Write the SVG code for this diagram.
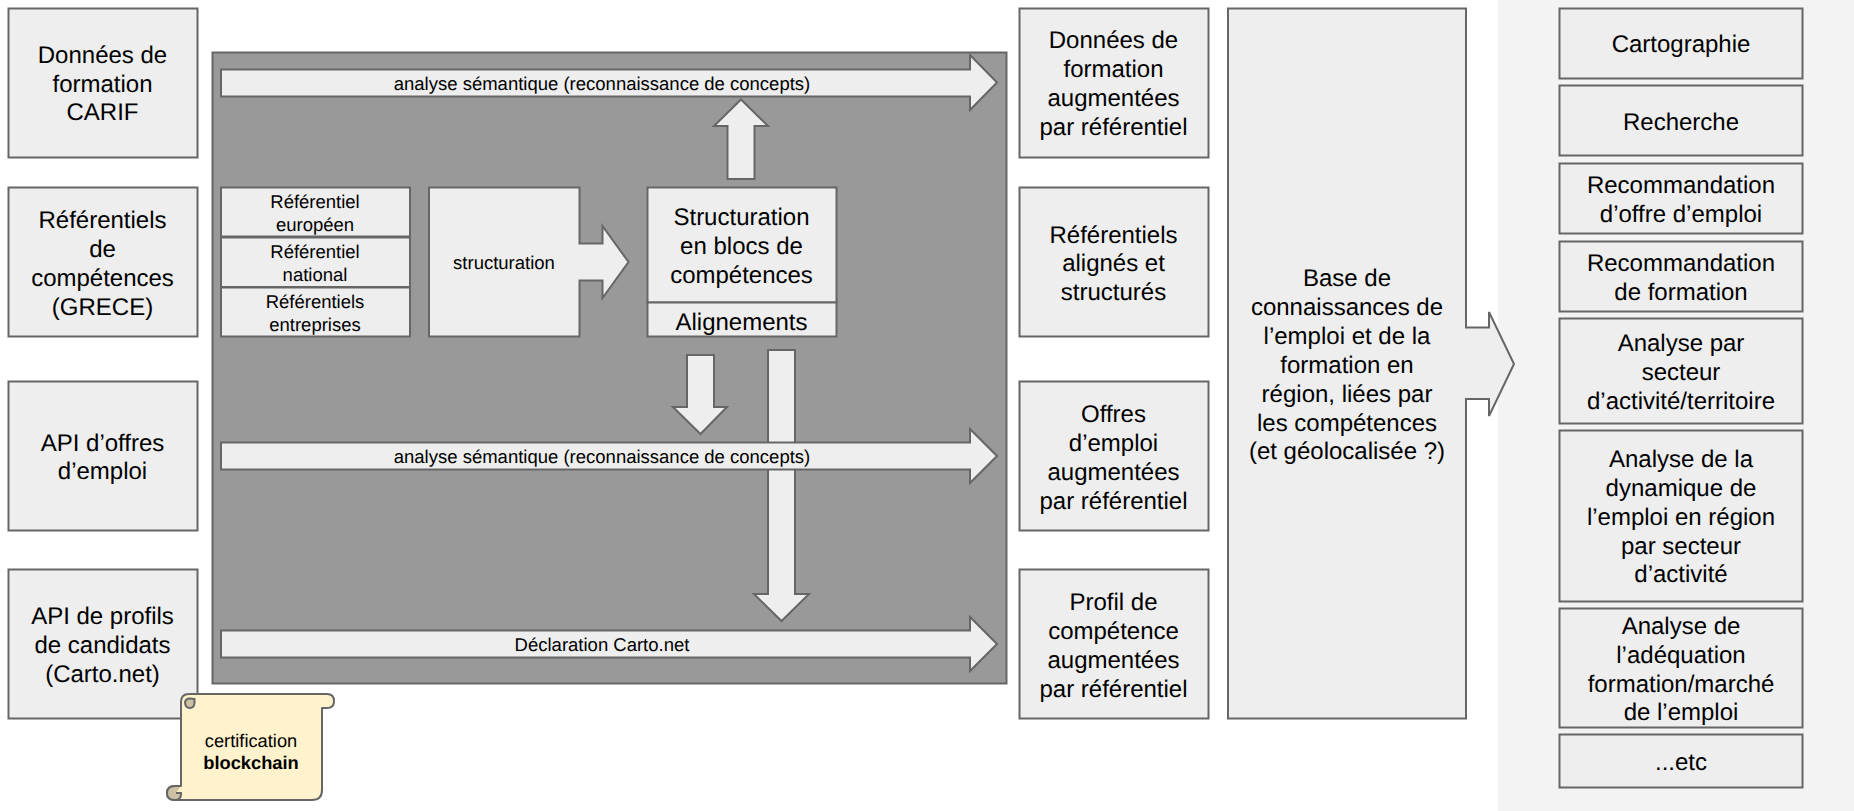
<svg xmlns="http://www.w3.org/2000/svg" width="1854" height="811" viewBox="0 0 1854 811">
<style>
text{font-family:"Liberation Sans",Arial,sans-serif;fill:#000;text-anchor:middle;text-rendering:geometricPrecision}
.b{fill:#eeeeee;stroke:#666666;stroke-width:2}
.t{font-size:24px}
.s{font-size:18.5px}
.c{font-size:18.3px}
.d{fill:#ccc2a3;stroke:#666666;stroke-width:2}
</style>
<rect width="1854" height="811" fill="#fff"/>
<rect id="panel-right" x="1498" y="0" width="356" height="811" fill="#f3f3f3"/>
<g id="n-carif"><rect class="b" x="8.500" y="8.500" width="189" height="149"/><text class="t" x="102.500" y="63">Données de</text><text class="t" x="102.500" y="92">formation</text><text class="t" x="102.500" y="120">CARIF</text></g>
<g id="n-grece"><rect class="b" x="8.500" y="187.500" width="189" height="149"/><text class="t" x="102.500" y="228">Référentiels</text><text class="t" x="102.500" y="257">de</text><text class="t" x="102.500" y="286">compétences</text><text class="t" x="102.500" y="315">(GRECE)</text></g>
<g id="n-offres"><rect class="b" x="8.500" y="381.500" width="189" height="149"/><text class="t" x="102.500" y="451">API d’offres</text><text class="t" x="102.500" y="479">d’emploi</text></g>
<g id="n-profils"><rect class="b" x="8.500" y="569.500" width="189" height="149"/><text class="t" x="102.500" y="624">API de profils</text><text class="t" x="102.500" y="653">de candidats</text><text class="t" x="102.500" y="682">(Carto.net)</text></g>
<g id="n-panel"><rect x="212.500" y="52.500" width="794" height="631" fill="#999999" stroke="#666666" stroke-width="2"/></g>
<g id="n-ref1"><rect class="b" x="221" y="187.500" width="189" height="49"/><text class="s" x="315" y="208">Référentiel</text><text class="s" x="315" y="231">européen</text></g>
<g id="n-ref2"><rect class="b" x="221" y="237.500" width="189" height="49.500"/><text class="s" x="315" y="258">Référentiel</text><text class="s" x="315" y="281">national</text></g>
<g id="n-ref3"><rect class="b" x="221" y="287.500" width="189" height="49"/><text class="s" x="315" y="308">Référentiels</text><text class="s" x="315" y="331">entreprises</text></g>
<g id="n-structuration"><path class="b" d="M429 187.500H579.500V243.500H602.500V226L628.500 262L602.500 298V280.500H579.500V336.500H429Z"/><text class="s" x="504" y="269">structuration</text></g>
<g id="n-blocs"><rect class="b" x="647.500" y="187.500" width="189" height="115"/><text class="t" x="741.500" y="225">Structuration</text><text class="t" x="741.500" y="254">en blocs de</text><text class="t" x="741.500" y="283">compétences</text></g>
<g id="n-align"><rect class="b" x="647.500" y="302.500" width="189" height="34"/><text class="t" x="741.500" y="330">Alignements</text></g>
<g id="connectors">
<path class="b" d="M768 350H795V594H809L781.500 621L754 594H768Z"/>
<path class="b" d="M687 355H714V407H727L700.500 434L673 407H687Z"/>
<path class="b" d="M727.500 179V126H714L741 99.500L768 126H754.500V179Z"/>
<path class="b" d="M221 69.500H970V55L997 82.500L970 110V96.500H221Z"/>
<path class="b" d="M221 442.500H970V429L997 456L970 483V469.500H221Z"/>
<path class="b" d="M221 630.500H970V617L997 644L970 671V657.500H221Z"/>
</g>
<text class="s" x="602" y="90">analyse sémantique (reconnaissance de concepts)</text>
<text class="s" x="602" y="463">analyse sémantique (reconnaissance de concepts)</text>
<text class="s" x="602" y="651">Déclaration Carto.net</text>
<g id="n-blockchain">
<path d="M181 786V702Q181 694 189 694H327Q334 694 334 701T327 708H322V790Q322 800 312 800H175Q167 800 167 793T175 786Z" fill="#fff2cc" stroke="#666666" stroke-width="2" stroke-linejoin="round"/>
<path class="d" d="M194.500 699Q186 697 185 702Q185 708 190 708Q194 708 194.500 703Z"/>
<path class="d" d="M181 786H175Q167 786 167 793T175 800Q181 800 181 794V793H176"/>
<text class="c" x="251" y="747">certification</text><text class="c" x="251" y="769" font-weight="bold">blockchain</text></g>
<g id="n-d1"><rect class="b" x="1019.500" y="8.500" width="189" height="149"/><text class="t" x="1113.500" y="48">Données de</text><text class="t" x="1113.500" y="77">formation</text><text class="t" x="1113.500" y="106">augmentées</text><text class="t" x="1113.500" y="135">par référentiel</text></g>
<g id="n-d2"><rect class="b" x="1019.500" y="187.500" width="189" height="149"/><text class="t" x="1113.500" y="243">Référentiels</text><text class="t" x="1113.500" y="271">alignés et</text><text class="t" x="1113.500" y="300">structurés</text></g>
<g id="n-d3"><rect class="b" x="1019.500" y="381.500" width="189" height="149"/><text class="t" x="1113.500" y="422">Offres</text><text class="t" x="1113.500" y="451">d’emploi</text><text class="t" x="1113.500" y="480">augmentées</text><text class="t" x="1113.500" y="509">par référentiel</text></g>
<g id="n-d4"><rect class="b" x="1019.500" y="569.500" width="189" height="149"/><text class="t" x="1113.500" y="610">Profil de</text><text class="t" x="1113.500" y="639">compétence</text><text class="t" x="1113.500" y="668">augmentées</text><text class="t" x="1113.500" y="697">par référentiel</text></g>
<g id="n-base"><path class="b" d="M1228 8.500H1466V327.500H1489V312L1514 364L1489 416V399H1466V718.500H1228Z"/>
<text class="t" x="1347" y="286">Base de</text><text class="t" x="1347" y="315">connaissances de</text><text class="t" x="1347" y="344">l’emploi et de la</text><text class="t" x="1347" y="373">formation en</text><text class="t" x="1347" y="402">région, liées par</text><text class="t" x="1347" y="431">les compétences</text><text class="t" x="1347" y="459">(et géolocalisée ?)</text></g>
<g id="n-r1"><rect class="b" x="1559.500" y="8.500" width="243" height="70"/><text class="t" x="1681" y="52">Cartographie</text></g>
<g id="n-r2"><rect class="b" x="1559.500" y="85.500" width="243" height="70"/><text class="t" x="1681" y="130">Recherche</text></g>
<g id="n-r3"><rect class="b" x="1559.500" y="163.500" width="243" height="70"/><text class="t" x="1681" y="193">Recommandation</text><text class="t" x="1681" y="222">d’offre d’emploi</text></g>
<g id="n-r4"><rect class="b" x="1559.500" y="241.500" width="243" height="70"/><text class="t" x="1681" y="271">Recommandation</text><text class="t" x="1681" y="300">de formation</text></g>
<g id="n-r5"><rect class="b" x="1559.500" y="318.500" width="243" height="105"/><text class="t" x="1681" y="351">Analyse par</text><text class="t" x="1681" y="380">secteur</text><text class="t" x="1681" y="409">d’activité/territoire</text></g>
<g id="n-r6"><rect class="b" x="1559.500" y="430.500" width="243" height="171"/><text class="t" x="1681" y="467">Analyse de la</text><text class="t" x="1681" y="496">dynamique de</text><text class="t" x="1681" y="525">l’emploi en région</text><text class="t" x="1681" y="554">par secteur</text><text class="t" x="1681" y="582">d’activité</text></g>
<g id="n-r7"><rect class="b" x="1559.500" y="608.500" width="243" height="119"/><text class="t" x="1681" y="634">Analyse de</text><text class="t" x="1681" y="663">l’adéquation</text><text class="t" x="1681" y="692">formation/marché</text><text class="t" x="1681" y="720">de l’emploi</text></g>
<g id="n-r8"><rect class="b" x="1559.500" y="734.500" width="243" height="53"/><text class="t" x="1681" y="770">...etc</text></g>
</svg>
